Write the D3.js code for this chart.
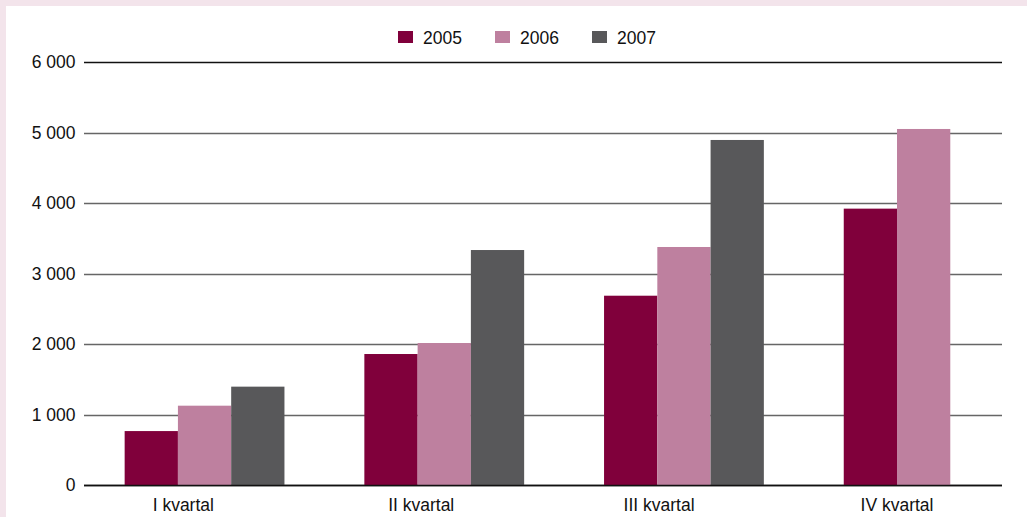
<!DOCTYPE html>
<html>
<head>
<meta charset="utf-8">
<script src="https://cdn.jsdelivr.net/npm/d3@7"></script>
<style>
  body { margin: 0; background: #f3e4eb; }
  svg { display: block; }
  text { font-family: "Liberation Sans", Arial, sans-serif; fill: #111; }
</style>
</head>
<body>
<svg id="chart"></svg>
<script>
const width = 1027;
const height = 517;

const quarters = ['I kvartal', 'II kvartal', 'III kvartal', 'IV kvartal'];
const years = ['2005', '2006', '2007'];
const v2005 = [765, 1858, 2685, 3920];
const v2006 = [1125, 2014, 3376, 5050];
const v2007 = [1395, 3333, 4894, null];
const yTicks = [0, 1000, 2000, 3000, 4000, 5000, 6000];
const colors = ['#80003b', '#be809f', '#58585a'];

const series = [v2005, v2006, v2007];

const svg = d3.select('#chart').attr('width', width).attr('height', height);

// white panel inside the pink frame
svg.append('rect')
  .attr('x', 6).attr('y', 6)
  .attr('width', width - 6).attr('height', height - 6)
  .attr('fill', '#fff');

const left = 84.7;
const step = 239.7;
const gridRight = 1002;
const fontSize = '17.5px';

const y = d3.scaleLinear().domain([0, 6000]).range([485, 62]);

const x0 = d3.scaleBand()
  .domain(quarters)
  .range([left, left + step * 4])
  .paddingInner(1 / 3)
  .paddingOuter(1 / 6);

const x1 = d3.scaleBand().domain(years).range([0, x0.bandwidth()]);

// category labels sit a little left of the bar groups
const xl = d3.scalePoint().domain(quarters).range([183.3, 897]);

const fmt = (d) => d3.format(',')(d).replace(',', ' ');

// gridlines
svg.append('g')
  .selectAll('line')
  .data(yTicks)
  .enter()
  .append('line')
  .attr('x1', 84)
  .attr('x2', gridRight)
  .attr('y1', (d) => Math.round(y(d)) + 0.5)
  .attr('y2', (d) => Math.round(y(d)) + 0.5)
  .attr('stroke', (d) => (d === 0 || d === 6000 ? '#111' : '#666'))
  .attr('stroke-width', 1.3);

// y labels
svg.append('g')
  .selectAll('text')
  .data(yTicks)
  .enter()
  .append('text')
  .attr('x', 75.5)
  .attr('y', (d) => y(d))
  .attr('dy', '0.35em')
  .attr('text-anchor', 'end')
  .style('font-size', fontSize)
  .text(fmt);

// bars
const rows = quarters.map((q, i) => ({ q, vals: series.map((s, j) => ({ year: years[j], v: s[i], c: colors[j] })) }));

svg.append('g')
  .selectAll('g')
  .data(rows)
  .enter()
  .append('g')
  .attr('transform', (d) => `translate(${x0(d.q)},0)`)
  .selectAll('rect')
  .data((d) => d.vals.filter((e) => e.v != null))
  .enter()
  .append('rect')
  .attr('x', (d) => x1(d.year))
  .attr('width', x1.bandwidth())
  .attr('y', (d) => y(d.v))
  .attr('height', (d) => y(0) - y(d.v))
  .attr('fill', (d) => d.c);

// redraw baseline on top
svg.append('line')
  .attr('x1', 84).attr('x2', gridRight)
  .attr('y1', Math.round(y(0)) + 0.5).attr('y2', Math.round(y(0)) + 0.5)
  .attr('stroke', '#111').attr('stroke-width', 1.3);

// x labels
svg.append('g')
  .selectAll('text')
  .data(quarters)
  .enter()
  .append('text')
  .attr('x', (d) => xl(d))
  .attr('y', 511)
  .attr('text-anchor', 'middle')
  .style('font-size', fontSize)
  .text((d) => d);

// legend
const legendX = [398, 495, 592];
const legend = svg.append('g')
  .selectAll('g')
  .data(years)
  .enter()
  .append('g')
  .attr('transform', (d, i) => `translate(${legendX[i]},31)`);

legend.append('rect')
  .attr('width', 15).attr('height', 12)
  .attr('fill', (d, i) => colors[i]);

legend.append('text')
  .attr('x', 25).attr('y', 12.5)
  .style('font-size', fontSize)
  .text((d) => d);
</script>
</body>
</html>
